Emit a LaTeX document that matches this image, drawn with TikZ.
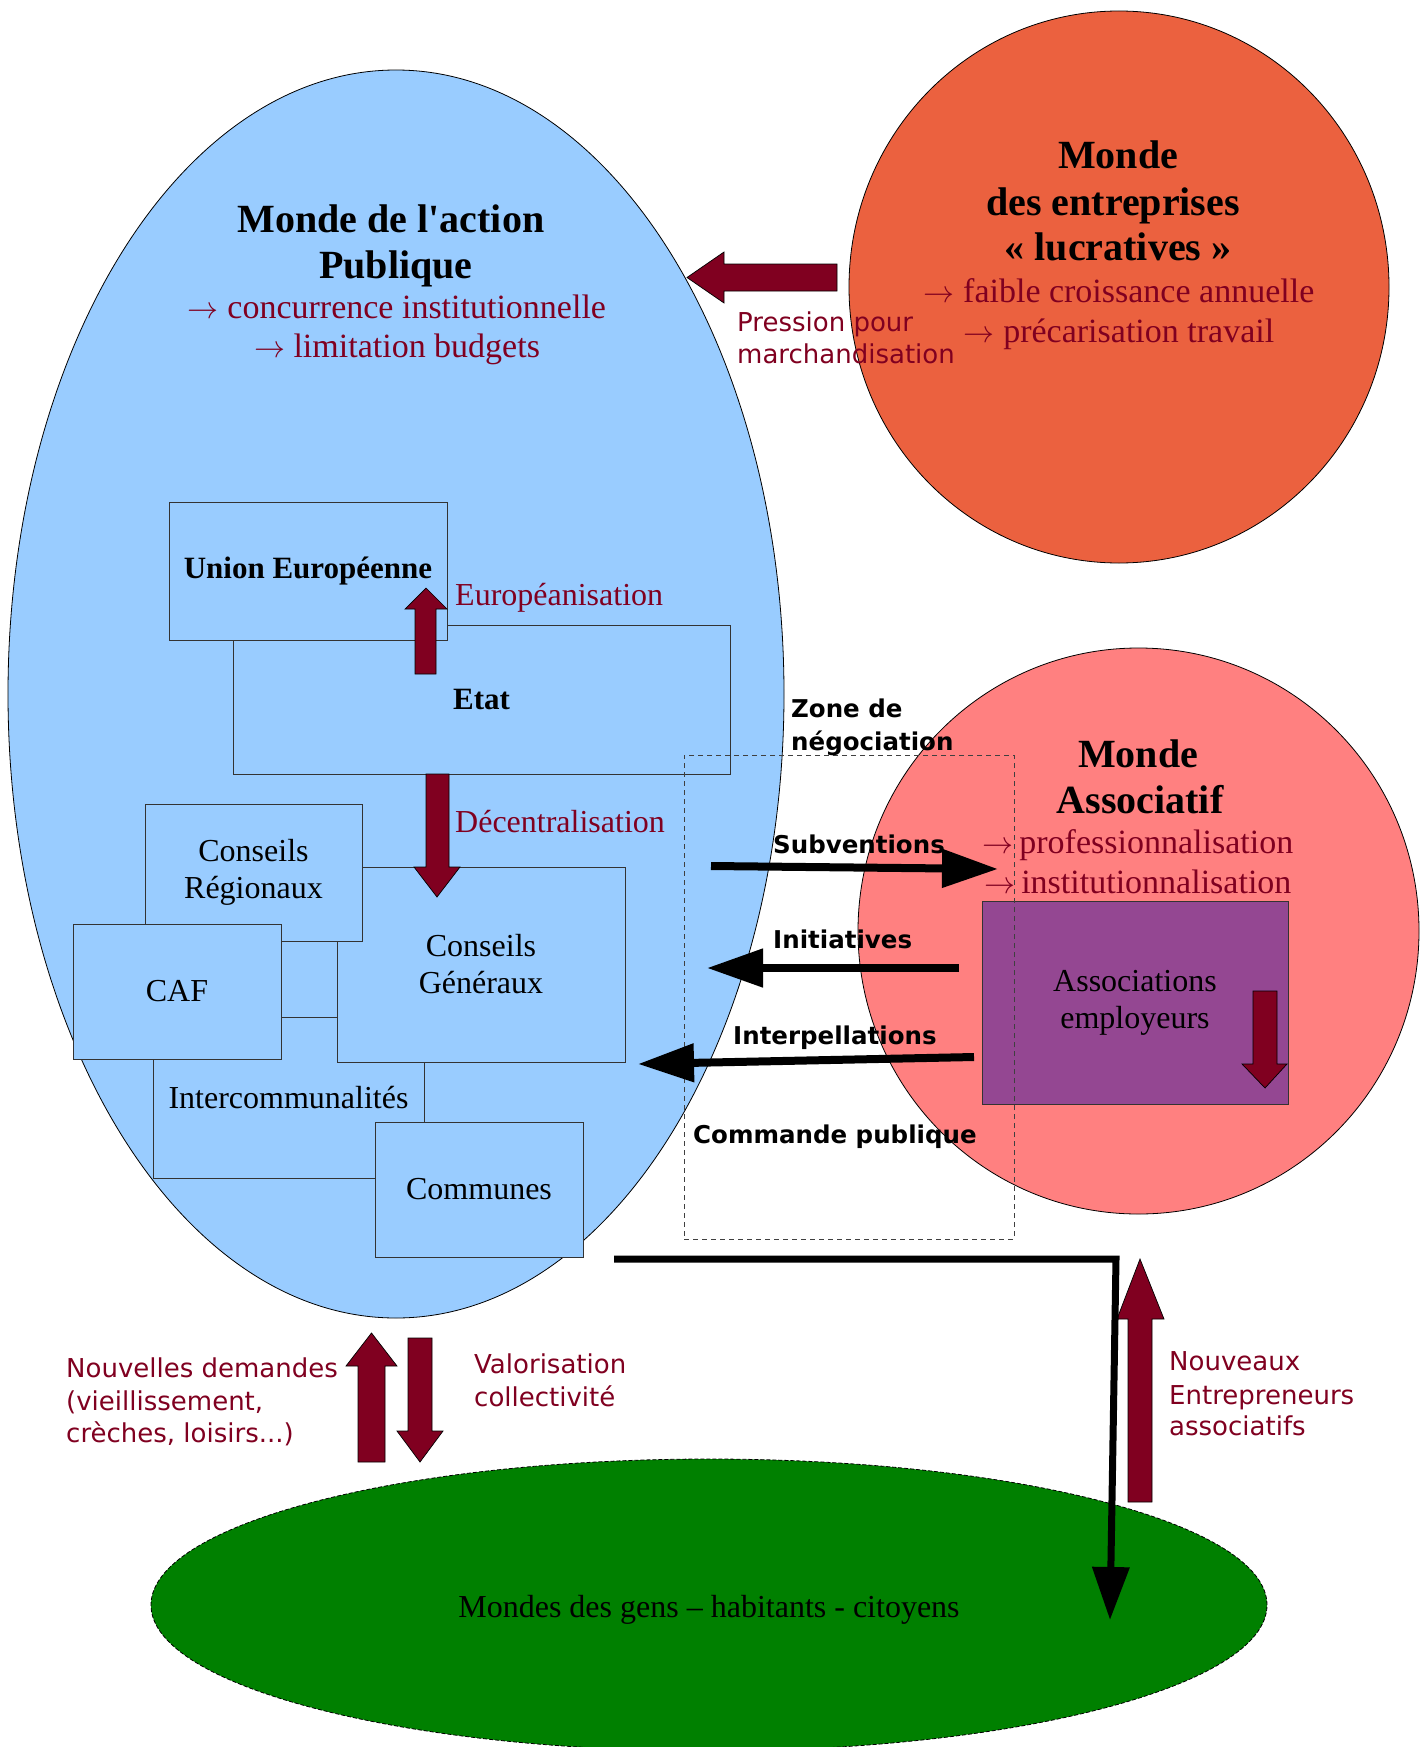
\documentclass[tikz,border=0pt]{standalone}
\usepackage{fontspec}
\setmainfont{Liberation Serif}
\newfontfamily\serifnomap{Liberation Serif}[Ligatures=TeXOff]
\newfontfamily\dvsans{DejaVu Sans}
\usetikzlibrary{shapes.geometric,arrows.meta}
\definecolor{pubblue}{RGB}{153,204,255}
\definecolor{entred}{RGB}{235,97,63}
\definecolor{assopink}{RGB}{255,128,128}
\definecolor{assopurple}{RGB}{148,71,146}
\definecolor{gensgreen}{RGB}{0,128,0}
\definecolor{bord}{RGB}{128,0,32}
\newcommand{\myfs}[2]{\fontsize{#1}{#2}\selectfont}
\newcommand{\ar}{\resizebox{31pt}{!}{$\rightarrow$}}
\begin{document}
\begin{tikzpicture}[x=1pt,y=-1pt,
  world/.style={ellipse, draw=black, line width=0.8pt, inner sep=0pt},
  instbox/.style={rectangle, draw=black!80, line width=0.9pt, fill=pubblue, inner sep=0pt, align=center, font=\myfs{32}{37}},
  boldbox/.style={instbox, font=\bfseries\myfs{31}{36}},
  titlestyle/.style={anchor=base, inner sep=0pt, font=\bfseries\myfs{40}{46}},
  substyle/.style={anchor=base, inner sep=0pt, text=bord, font=\myfs{34}{40}},
  lblstyle/.style={anchor=base west, inner sep=0pt, text=bord, font=\myfs{32}{37}},
  sansstyle/.style={anchor=base west, inner sep=0pt, text=bord, font=\dvsans\myfs{26}{32}},
  bsansstyle/.style={anchor=base west, inner sep=0pt, font=\dvsans\bfseries\myfs{24.5}{33}},
  blk/.style={draw=black, line width=0.7pt, fill=bord, line join=miter},
  flow/.style={draw=black, line width=8pt, -{Triangle[length=56pt,width=37pt]}},
  zonestyle/.style={rectangle, draw=black!75, line width=1pt, dash pattern=on 5pt off 4pt, inner sep=0pt}
]
\clip (0,0) rectangle (1426,1747);
\fill[white] (0,0) rectangle (1426,1747);

% worlds
\node[world, fill=pubblue, minimum width=776pt, minimum height=1248pt] (pub) at (396,694) {};
\node[world, fill=entred, minimum width=540pt, minimum height=552pt] (ent) at (1119,287) {};
\node[world, fill=assopink, minimum width=561pt, minimum height=566pt] (asso) at (1138.5,931) {};
\node[world, fill=gensgreen, dash pattern=on 4pt off 2pt, minimum width=1116pt, minimum height=292pt] (gens) at (709,1605) {};

% institutions
\node[boldbox, minimum width=497pt, minimum height=149pt] (etat) at (481.5,699.5) {Etat};
\node[boldbox, minimum width=278pt, minimum height=138pt] (ue) at (308,571) {Union Européenne};
\node[instbox, minimum width=271pt, minimum height=161pt] (interco) at (288.5,1097.5) {Intercommunalités};
\node[instbox, minimum width=288pt, minimum height=195pt] (cg) at (481,964.5) {Conseils\\Généraux};
\node[instbox, minimum width=217pt, minimum height=137pt] (cr) at (253.5,872.5) {Conseils\\Régionaux};
\node[instbox, minimum width=208pt, minimum height=135pt] (caf) at (177,991.5) {CAF};
\node[instbox, minimum width=208pt, minimum height=135pt] (communes) at (479,1189.5) {Communes};

% associations employeurs
\node[rectangle, draw=black!80, line width=0.9pt, fill=assopurple, inner sep=0pt, align=center, font=\myfs{32}{37}, minimum width=306pt, minimum height=203pt] (assoc) at (1135,1002.5) {Associations\\ employeurs};

% negotiation zone
\node[zonestyle, minimum width=330pt, minimum height=484pt] (zone) at (849,997) {};

% block arrows
\draw[blk] (837,264) -- (724,264) -- (724,252) -- (687,277.5) -- (724,303) -- (724,291) -- (837,291) -- cycle;
\draw[blk] (415,674) -- (415,609) -- (405,609) -- (426,588) -- (447,609) -- (436,609) -- (436,674) -- cycle;
\draw[blk] (426,774) -- (426,867) -- (414,867) -- (437,897) -- (460,867) -- (449,867) -- (449,774) -- cycle;
\draw[blk] (1253,991) -- (1253,1064) -- (1242,1064) -- (1265,1088) -- (1287,1064) -- (1277,1064) -- (1277,991) -- cycle;
\draw[blk] (358,1462) -- (358,1366) -- (346,1366) -- (371.5,1333) -- (397,1366) -- (385,1366) -- (385,1462) -- cycle;
\draw[blk] (408,1338) -- (408,1431) -- (397,1431) -- (420,1462) -- (443,1431) -- (432,1431) -- (432,1338) -- cycle;
\draw[blk] (1128,1502) -- (1128,1319) -- (1117,1319) -- (1140,1259) -- (1164,1319) -- (1152,1319) -- (1152,1502) -- cycle;

% black flows
\coordinate (s1) at (711,866); \coordinate (s2) at (998,869);
\coordinate (i1) at (959,968); \coordinate (i2) at (707,968);
\coordinate (p1) at (974,1057); \coordinate (p2) at (638,1064);
\coordinate (l1) at (614,1259); \coordinate (l2) at (1116,1259); \coordinate (l3) at (1110,1620);
\draw[flow] (s1) -- (s2);
\draw[flow] (i1) -- (i2);
\draw[flow] (p1) -- (p2);
\draw[draw=black, line width=7pt, line join=miter, -{Triangle[length=53pt,width=36pt]}] (l1) -- (l2) -- (l3);

% titles
\node[titlestyle] (pt1) at (391,232) {Monde de l{\serifnomap\bfseries '}action};
\node[titlestyle] (pt2) at (396,278) {Publique};
\node[substyle] (ps1) at (397,318) {\ar{} concurrence institutionnelle};
\node[substyle] (ps2) at (397,357) {\ar{} limitation budgets};

\node[titlestyle] (et1) at (1118,169) {Monde};
\node[titlestyle] (et2) at (1113,215) {des entreprises};
\node[titlestyle] (et3) at (1118,260) {« lucratives »};
\node[substyle] (es1) at (1119,302) {\ar{} faible croissance annuelle};
\node[substyle] (es2) at (1119,342) {\ar{} précarisation travail};

\node[titlestyle] (at1) at (1138,767) {Monde};
\node[titlestyle] (at2) at (1140,813) {Associatif};
\node[substyle] (as1) at (1138,853) {\ar{}\,professionnalisation};
\node[substyle] (as2) at (1138,893) {\ar{}\,institutionnalisation};

% labels
\node[lblstyle] (eur) at (455,605) {Européanisation};
\node[lblstyle] (dec) at (455,832) {Décentralisation};

\node[sansstyle] (np1) at (737,331) {Pression pour};
\node[sansstyle] (np2) at (737,363) {marchandisation};

\node[bsansstyle] (z1) at (791,717) {Zone de};
\node[bsansstyle] (z2) at (791,750) {négociation};
\node[bsansstyle] (subv) at (773,853) {Subventions};
\node[bsansstyle] (ini) at (773,948) {Initiatives};
\node[bsansstyle] (itp) at (733,1044) {Interpellations};
\node[bsansstyle] (cmd) at (693,1143) {Commande publique};

\node[sansstyle] (nd1) at (66,1377) {Nouvelles demandes};
\node[sansstyle] (nd2) at (66,1410) {(vieillissement,};
\node[sansstyle] (nd3) at (66,1442) {crèches, loisirs...)};
\node[sansstyle] (va1) at (474,1373) {Valorisation};
\node[sansstyle] (va2) at (474,1406) {collectivité};
\node[sansstyle] (ne1) at (1169,1370) {Nouveaux};
\node[sansstyle] (ne2) at (1169,1404) {Entrepreneurs};
\node[sansstyle] (ne3) at (1169,1435) {associatifs};

\node[anchor=base, inner sep=0pt, font=\myfs{32}{37}] (gt) at (709,1617) {Mondes des gens – habitants - citoyens};
\end{tikzpicture}
\end{document}
